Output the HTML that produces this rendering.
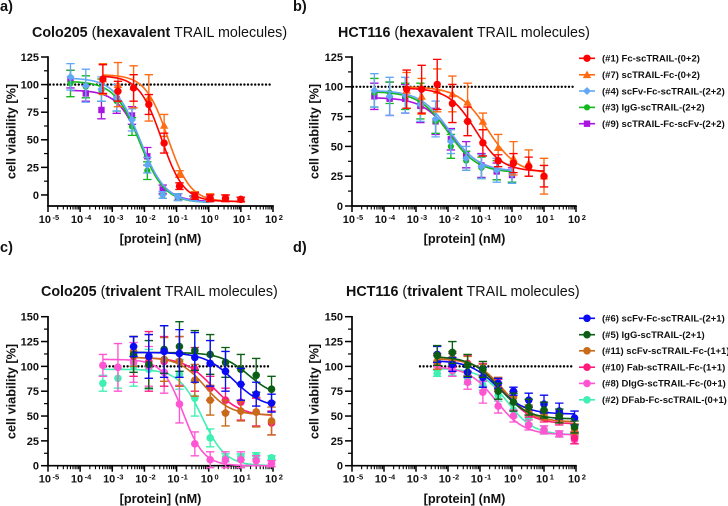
<!DOCTYPE html>
<html>
<head>
<meta charset="utf-8">
<style>
html,body{margin:0;padding:0;background:#fff;}
svg{display:block;font-family:"Liberation Sans",sans-serif;}
text{fill:#111;}
</style>
</head>
<body>
<svg id="figure" width="728" height="506" viewBox="0 0 728 506" xmlns="http://www.w3.org/2000/svg"></svg>
<script>
// ---------- shared axis data ----------
const xTickExponents = [-5, -4, -3, -2, -1, 0, 1, 2];
const yTicksHex = [0, 25, 50, 75, 100, 125];
const yTicksTri = [0, 25, 50, 75, 100, 125, 150];

// ---------- doses (nM) ----------
const dosesTen = [0.00051, 0.0015, 0.0046, 0.0137, 0.041, 0.123, 0.37, 1.11, 3.33, 10];
const dosesOne = [0.00005, 0.00015, 0.00046, 0.00137, 0.0041, 0.0123, 0.037, 0.111, 0.333, 1];
const dosesNinety = [0.0046, 0.0137, 0.041, 0.123, 0.37, 1.11, 3.33, 10, 30, 90];
const dosesNinetyLong = [0.00051, 0.0015, 0.0046, 0.0137, 0.041, 0.123, 0.37, 1.11, 3.33, 10, 30, 90];

// ---------- series names ----------
const legendHex = ["(#1) Fc-scTRAIL-(0+2)", "(#7) scTRAIL-Fc-(0+2)", "(#4) scFv-Fc-scTRAIL-(2+2)", "(#3) IgG-scTRAIL-(2+2)", "(#9) scTRAIL-Fc-scFv-(2+2)"];
const legendTri = ["(#6) scFv-Fc-scTRAIL-(2+1)", "(#5) IgG-scTRAIL-(2+1)", "(#11) scFv-scTRAIL-Fc-(1+1)", "(#10) Fab-scTRAIL-Fc-(1+1)", "(#8) DIgG-scTRAIL-Fc-(0+1)", "(#2) DFab-Fc-scTRAIL-(0+1)"];

// ---------- panel a: values, errors, fit [top, bottom, logEC50, hill] ----------
const a1Values = [105, 94, 97, 82, 47, 8, -1, -3, -3, -4];
const a1Errors = [13, 9, 12, 9, 9, 3, 3, 3, 3, 2];
const a1Fit = [108, -6, -1.47, 1.25];
const a7Values = [105, 100, 98, 88, 63, 19, 0, -2, -3, -4];
const a7Errors = [14, 20, 19, 21, 10, 3, 3, 3, 3, 2];
const a7Fit = [109, -6, -1.27, 1.25];
const a4Values = [107, 99, 96, 88, 68, 27, 0, -2, -3, -4];
const a4Errors = [12, 15, 11, 12, 10, 7, 3, 3, 2, 2];
const a4Fit = [106, -7, -2.13, 1.1];
const a3Values = [101, 98, 95, 85, 62, 22, 0, -2, -3, -4];
const a3Errors = [12, 10, 10, 9, 8, 8, 3, 3, 2, 2];
const a3Fit = [103, -7, -2.15, 1.12];
const a9Values = [105, 92, 77, 87, 72, 35, 5, -2, -3, -4];
const a9Errors = [8, 7, 8, 13, 8, 8, 4, 3, 2, 2];
const a9Fit = [95, -6, -2.08, 1.15];

// ---------- panel b ----------
const b1Values = [98, 98, 102, 86, 71, 53, 38, 36, 33, 25];
const b1Errors = [16, 20, 21, 16, 12, 11, 5, 8, 8, 9];
const b1Fit = [99, 29, -1.15, 1.05];
const b7Values = [97, 92, 97, 94, 87, 71, 49, 40, 36, 25];
const b7Errors = [15, 15, 18, 15, 16, 7, 11, 14, 11, 15];
const b7Fit = [100, 27, -0.75, 0.95];
const b4Values = [97, 92, 93, 85, 73, 54, 40, 33, 30, 27];
const b4Errors = [14, 16, 15, 14, 15, 10, 10, 10, 10, 8];
const b4Fit = [97, 29, -1.95, 0.95];
const b3Values = [95, 95, 92, 88, 71, 50, 38, 32, 30, 27];
const b3Errors = [12, 9, 11, 15, 10, 10, 8, 9, 8, 7];
const b3Fit = [96, 28, -2.0, 0.95];
const b9Values = [92, 90, 90, 84, 71, 56, 43, 34, 29, 26];
const b9Errors = [11, 14, 12, 14, 11, 9, 11, 10, 7, 6];
const b9Fit = [91, 29, -1.9, 0.95];

// ---------- panel c ----------
const c6Values = [120, 110, 115, 113, 109, 103, 95, 82, 72, 63];
const c6Errors = [10, 22, 26, 24, 25, 23, 20, 16, 12, 9];
const c6Fit = [114, 58, 0.78, 0.95];
const c5Values = [112, 102, 117, 120, 116, 112, 104, 97, 91, 77];
const c5Errors = [18, 24, 24, 25, 20, 20, 15, 15, 17, 13];
const c5Fit = [114, 68, 1.25, 1];
const c11Values = [115, 110, 107, 105, 86, 66, 53, 55, 54, 45];
const c11Errors = [15, 22, 22, 25, 16, 15, 13, 10, 15, 14];
const c11Fit = [109, 51, -0.12, 1.1];
const c10Values = [110, 105, 105, 105, 97, 78, 66, 64, 54, 43];
const c10Errors = [20, 30, 25, 25, 22, 12, 12, 18, 14, 12];
const c10Fit = [109, 50, 0.12, 1];
const c8Values = [101, 99, 104, 100, 94, 62, 22, 6, 6, 6, 5, 2];
const c8Errors = [11, 24, 20, 20, 21, 19, 12, 8, 8, 8, 5, 3];
const c8Fit = [107, 0, -0.8, 1.35];
const c2Values = [83, 88, 100, 97, 94, 92, 68, 28, 8, 9, 10, 8];
const c2Errors = [8, 10, 20, 20, 14, 15, 18, 9, 4, 3, 3, 2];
const c2Fit = [97, 0, -0.2, 1.2];

// ---------- panel d ----------
const d6Values = [112, 102, 94, 89, 83, 75, 66, 62, 55, 48];
const d6Errors = [8, 7, 5, 10, 5, 4, 7, 9, 8, 7];
const d6Fit = [106, 52, -0.45, 1];
const d5Values = [111, 114, 101, 97, 75, 64, 59, 56, 50, 39];
const d5Errors = [10, 11, 11, 8, 8, 9, 8, 8, 7, 6];
const d5Fit = [110, 47, -0.4, 1];
const d11Values = [105, 108, 102, 96, 83, 69, 56, 51, 48, 37];
const d11Errors = [8, 7, 8, 6, 6, 6, 5, 5, 5, 5];
const d11Fit = [108, 44, -0.25, 1];
const d10Values = [104, 106, 103, 97, 81, 69, 54, 49, 46, 28];
const d10Errors = [7, 7, 8, 6, 6, 6, 5, 5, 5, 6];
const d10Fit = [108, 42, -0.25, 1];
const d8Values = [101, 96, 84, 74, 60, 50, 41, 36, 32, 26];
const d8Errors = [4, 6, 7, 11, 7, 6, 5, 4, 3, 4];
const d8Fit = [100, 31, -0.5, 1];
const d2Values = [93, 95, 88, 81, 71, 56, 48, 36, 32, 31];
const d2Errors = [3, 4, 6, 5, 6, 7, 6, 4, 3, 3];
const d2Fit = [98, 31, -0.15, 1.05];

// ---------- drawing ----------
const svg = document.getElementById('figure');
const NS = 'http://www.w3.org/2000/svg';

function make(tag, parent, props) {
  const n = document.createElementNS(NS, tag);
  for (const k in props) n.setAttribute(k, props[k]);
  parent.appendChild(n);
  return n;
}

function group(parent, name) {
  const g = make('g', parent, {});
  
  
  return g;
}

function label(parent, name, x, y, str, props) {
  const t = make('text', parent, Object.assign({x: x, y: y}, props));
  
  
  t.textContent = str;
  return t;
}

function marker(parent, name, shape, cx, cy, color, r) {
  let el;
  if (shape === 'square') {
    el = make('rect', parent, {x: cx - r, y: cy - r, width: 2 * r, height: 2 * r, fill: color});
  } else if (shape === 'triangle') {
    const s = r * 1.2;
    el = make('polygon', parent, {points: (cx - s) + ',' + (cy + s * 0.8) + ' ' + (cx + s) + ',' + (cy + s * 0.8) + ' ' + cx + ',' + (cy - s), fill: color});
  } else if (shape === 'diamond') {
    const s = r * 1.25;
    el = make('polygon', parent, {points: cx + ',' + (cy - s) + ' ' + (cx + s) + ',' + cy + ' ' + cx + ',' + (cy + s) + ' ' + (cx - s) + ',' + cy, fill: color});
  } else {
    el = make('circle', parent, {cx: cx, cy: cy, r: r, fill: color});
  }
  
  
  return el;
}

function drawSeries(parent, p, s) {
  const g = group(parent, 'series-' + s.key);
  const xs = s.doses.map(function (d) { return p.x(Math.log10(d)); });
  const ys = s.values.map(p.y);
  // fit curve
  const lo = Math.log10(s.doses[0]);
  const hi = Math.log10(s.doses[s.doses.length - 1]);
  let d = '';
  for (let i = 0; i <= 80; i++) {
    const lx = lo + (hi - lo) * i / 80;
    const v = s.fit[1] + (s.fit[0] - s.fit[1]) / (1 + Math.pow(10, s.fit[3] * (lx - s.fit[2])));
    d += (i ? 'L' : 'M') + p.x(lx).toFixed(2) + ' ' + p.y(v).toFixed(2);
  }
  const curve = make('path', g, {d: d, fill: 'none', stroke: s.color, 'stroke-width': 1.6});
  
  
  // error bars
  s.values.forEach(function (v, i) {
    const top = p.y(v + s.errors[i]);
    const bot = p.y(v - s.errors[i]);
    const bar = make('path', g, {
      d: 'M' + xs[i] + ' ' + top + 'V' + bot + 'M' + (xs[i] - 4.2) + ' ' + top + 'h8.4M' + (xs[i] - 4.2) + ' ' + bot + 'h8.4',
      fill: 'none', stroke: s.color, 'stroke-width': 1.35
    });
    
    
  });
  // points
  s.values.forEach(function (v, i) {
    marker(g, 'point-' + s.key, s.shape, xs[i], ys[i], s.color, s.r);
  });
}

function drawPanel(p) {
  const g = group(svg, 'panel-' + p.id);
  p.x = function (lx) { return p.left + (lx + 5) * (p.right - p.left) / 7; };
  p.y = function (v) { return p.bottom - (v - p.yMin) * (p.bottom - p.top) / (p.yMax - p.yMin); };

  label(g, 'panel-letter-' + p.id, p.letterX, p.letterY, p.id + ')', {'font-size': 14.5, 'font-weight': 'bold'});

  const title = label(g, 'chart-title-' + p.id, p.titleX, p.titleY, '', {'font-size': 14.3, fill: '#222'});
  const t1 = make('tspan', title, {'font-weight': 'bold'});
  t1.textContent = p.cell;
  const t2 = make('tspan', title, {});
  t2.textContent = ' (';
  const t3 = make('tspan', title, {'font-weight': 'bold'});
  t3.textContent = p.valency;
  const t4 = make('tspan', title, {});
  t4.textContent = ' TRAIL molecules)';

  // axes
  const axes = group(g, 'axes-' + p.id);
  const yLine = make('line', axes, {x1: p.left, x2: p.left, y1: p.top - 0.7, y2: p.bottom + 0.8, stroke: '#000', 'stroke-width': 1.7});
  
  
  const xLine = make('line', axes, {x1: p.left - 0.8, x2: p.right + 0.8, y1: p.bottom, y2: p.bottom, stroke: '#000', 'stroke-width': 1.7});
  
  

  xTickExponents.forEach(function (e, i) {
    const tx = p.x(e);
    const maj = make('line', axes, {x1: tx, x2: tx, y1: p.bottom, y2: p.bottom + 6, stroke: '#000', 'stroke-width': 1.5});
    
    
    if (i < xTickExponents.length - 1) {
      for (let m = 2; m < 10; m++) {
        const mx = p.x(e + Math.log10(m));
        const mn = make('line', axes, {x1: mx, x2: mx, y1: p.bottom, y2: p.bottom + 3.5, stroke: '#000', 'stroke-width': 1.1});
        
        
      }
    }
    const lab = label(axes, 'x-tick-label', tx + 1, p.bottom + 17, '', {'font-size': 11, 'font-weight': 'bold', 'text-anchor': 'middle'});
    const base = make('tspan', lab, {});
    base.textContent = '10';
    const sup = make('tspan', lab, {'font-size': 7.5, dx: 1.5, dy: -3});
    sup.textContent = String(e);
  });

  p.yTicks.forEach(function (v, i) {
    const ty = p.y(v);
    const maj = make('line', axes, {x1: p.left - 7, x2: p.left, y1: ty, y2: ty, stroke: '#000', 'stroke-width': 1.5});
    
    
    if (i < p.yTicks.length - 1) {
      const my = p.y(v + 12.5);
      const mn = make('line', axes, {x1: p.left - 4, x2: p.left, y1: my, y2: my, stroke: '#000', 'stroke-width': 1.2});
      
      
    }
    label(axes, 'y-tick-label', p.left - 9, ty + 3.9, String(v), {'font-size': 11, 'font-weight': 'bold', 'text-anchor': 'end'});
  });

  label(axes, 'x-axis-title', p.xTitleX, p.xTitleY, '[protein] (nM)', {'font-size': 12.7, 'font-weight': 'bold', 'text-anchor': 'middle'});
  const yt = label(axes, 'y-axis-title', 0, 0, 'cell viability [%]', {'font-size': 12.7, 'font-weight': 'bold', 'text-anchor': 'middle'});
  yt.setAttribute('transform', 'translate(' + p.yTitleX + ' ' + p.yTitleY + ') rotate(-90)');

  // reference line at 100 %, behind the data
  const ref = make('line', g, {x1: p.refStart, x2: p.refEnd, y1: p.y(100), y2: p.y(100), stroke: '#000', 'stroke-width': 2.4, 'stroke-linecap': 'round', 'stroke-dasharray': '0 3.6'});
  
  

  const data = group(g, 'data-' + p.id);
  p.series.forEach(function (s) { drawSeries(data, p, s); });
}

function drawLegend(name, names, styles, rows) {
  const g = group(svg, name);
  names.forEach(function (txt, i) {
    const e = group(g, 'legend-entry');
    const ln = make('line', e, {x1: 579, x2: 595, y1: rows[i], y2: rows[i], stroke: styles[i].color, 'stroke-width': 1.6});
    
    
    marker(e, 'legend-marker', styles[i].shape, 587, rows[i], styles[i].color, styles[i].r);
    label(e, 'legend-label', 602, rows[i] + 3.3, txt, {'font-size': 9.5, 'font-weight': 'bold'});
  });
}

const RED = '#ff0000', ORANGE = '#ff6a13', SKY = '#62a8f6', GREEN = '#12b81c', PURPLE = '#a814e0';
const BLUE = '#0a0af5', DKGREEN = '#0b5e14', BROWN = '#c86a18', PINK = '#ff1a7c', MAGENTA = '#ff55d2', TEAL = '#40f0b2';

const hexStyles = [
  {color: RED, shape: 'circle', r: 3.7}, {color: ORANGE, shape: 'triangle', r: 3.5},
  {color: SKY, shape: 'diamond', r: 3.2}, {color: GREEN, shape: 'circle', r: 3.1},
  {color: PURPLE, shape: 'square', r: 3.2}
];
const triStyles = [
  {color: BLUE, shape: 'circle', r: 3.8}, {color: DKGREEN, shape: 'circle', r: 3.8},
  {color: BROWN, shape: 'circle', r: 3.8}, {color: PINK, shape: 'circle', r: 3.8},
  {color: MAGENTA, shape: 'circle', r: 3.8}, {color: TEAL, shape: 'circle', r: 3.8}
];

function build(key, style, doses, values, errors, fit) {
  return {key: key, color: style.color, shape: style.shape, r: style.r, doses: doses, values: values, errors: errors, fit: fit};
}

drawPanel({
  id: 'a', cell: 'Colo205', valency: 'hexavalent', left: 48, right: 273, top: 57, bottom: 206, yMin: -10, yMax: 125,
  yTicks: yTicksHex, letterX: 0, letterY: 11, titleX: 32, titleY: 37, xTitleX: 160.5, xTitleY: 243, yTitleX: 15.5, yTitleY: 131.5, refStart: 50, refEnd: 270,
  series: [
    build('9', hexStyles[4], dosesOne, a9Values, a9Errors, a9Fit),
    build('3', hexStyles[3], dosesOne, a3Values, a3Errors, a3Fit),
    build('4', hexStyles[2], dosesOne, a4Values, a4Errors, a4Fit),
    build('7', hexStyles[1], dosesTen, a7Values, a7Errors, a7Fit),
    build('1', hexStyles[0], dosesTen, a1Values, a1Errors, a1Fit)
  ]
});
drawPanel({
  id: 'b', cell: 'HCT116', valency: 'hexavalent', left: 352, right: 576, top: 57, bottom: 206, yMin: 0, yMax: 125,
  yTicks: yTicksHex, letterX: 293, letterY: 11, titleX: 338, titleY: 37, xTitleX: 464.5, xTitleY: 243, yTitleX: 318.5, yTitleY: 131.5, refStart: 353, refEnd: 573,
  series: [
    build('9', hexStyles[4], dosesOne, b9Values, b9Errors, b9Fit),
    build('3', hexStyles[3], dosesOne, b3Values, b3Errors, b3Fit),
    build('4', hexStyles[2], dosesOne, b4Values, b4Errors, b4Fit),
    build('7', hexStyles[1], dosesTen, b7Values, b7Errors, b7Fit),
    build('1', hexStyles[0], dosesTen, b1Values, b1Errors, b1Fit)
  ]
});
drawPanel({
  id: 'c', cell: 'Colo205', valency: 'trivalent', left: 48, right: 273, top: 316.7, bottom: 465.7, yMin: 0, yMax: 150,
  yTicks: yTicksTri, letterX: 0, letterY: 252, titleX: 41, titleY: 296, xTitleX: 160.5, xTitleY: 503, yTitleX: 15.5, yTitleY: 391.5, refStart: 106, refEnd: 270,
  series: [
    build('2', triStyles[5], dosesNinetyLong, c2Values, c2Errors, c2Fit),
    build('8', triStyles[4], dosesNinetyLong, c8Values, c8Errors, c8Fit),
    build('10', triStyles[3], dosesNinety, c10Values, c10Errors, c10Fit),
    build('11', triStyles[2], dosesNinety, c11Values, c11Errors, c11Fit),
    build('5', triStyles[1], dosesNinety, c5Values, c5Errors, c5Fit),
    build('6', triStyles[0], dosesNinety, c6Values, c6Errors, c6Fit)
  ]
});
drawPanel({
  id: 'd', cell: 'HCT116', valency: 'trivalent', left: 352, right: 576, top: 316.7, bottom: 465.7, yMin: 0, yMax: 150,
  yTicks: yTicksTri, letterX: 293, letterY: 252, titleX: 346, titleY: 296, xTitleX: 464.5, xTitleY: 503, yTitleX: 318.5, yTitleY: 391.5, refStart: 420, refEnd: 573,
  series: [
    build('2', triStyles[5], dosesNinety, d2Values, d2Errors, d2Fit),
    build('8', triStyles[4], dosesNinety, d8Values, d8Errors, d8Fit),
    build('10', triStyles[3], dosesNinety, d10Values, d10Errors, d10Fit),
    build('11', triStyles[2], dosesNinety, d11Values, d11Errors, d11Fit),
    build('6', triStyles[0], dosesNinety, d6Values, d6Errors, d6Fit),
    build('5', triStyles[1], dosesNinety, d5Values, d5Errors, d5Fit)
  ]
});

const legendHexRows = [58.3, 74.8, 91, 107.4, 123.7];
const legendTriRows = [318.3, 334.7, 350.8, 367.2, 383.4, 399.8];
drawLegend('legend-hexavalent', legendHex, hexStyles, legendHexRows);
drawLegend('legend-trivalent', legendTri, triStyles, legendTriRows);
</script>
</body>
</html>
